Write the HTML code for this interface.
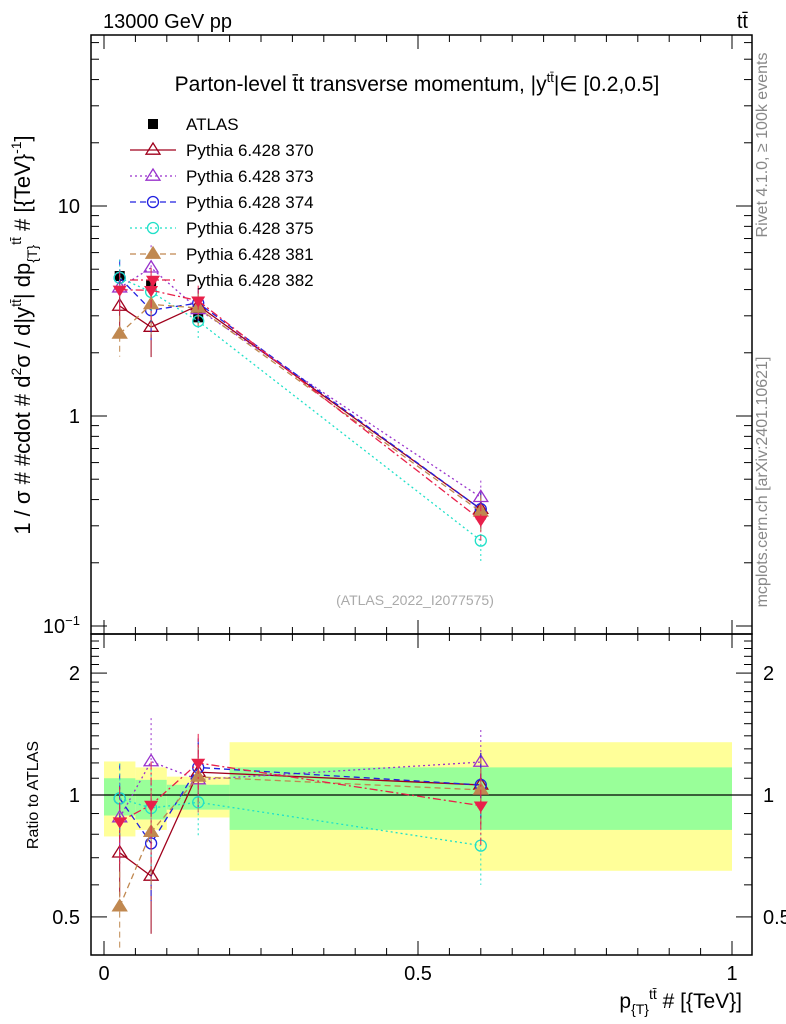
<!DOCTYPE html>
<html><head><meta charset="utf-8">
<style>
body{margin:0;background:#fff;}
svg{display:block;font-family:"Liberation Sans",sans-serif;}
</style></head>
<body>
<svg id="c" width="786" height="1024" viewBox="0 0 786 1024" xmlns="http://www.w3.org/2000/svg">
<g id="bands"></g>
<g id="axes"></g>
<g id="series"></g>
<g id="legend"></g>
<text x="103" y="28" font-size="20">13000 GeV pp</text>
<text x="748" y="28" font-size="20" text-anchor="end">tt̄</text>
<text x="417" y="91" font-size="21" text-anchor="middle">Parton-level t̄t transverse momentum, |y<tspan font-size="13" dy="-9">tt̄</tspan><tspan dy="9">|∈ [0.2,0.5]</tspan></text>
<text x="415" y="605" font-size="14" fill="#aaa" text-anchor="middle">(ATLAS_2022_I2077575)</text>
<text transform="translate(767,145) rotate(-90)" font-size="16" fill="#888" text-anchor="middle">Rivet 4.1.0, ≥ 100k events</text>
<text transform="translate(767,482) rotate(-90)" font-size="16" fill="#888" text-anchor="middle">mcplots.cern.ch [arXiv:2401.10621]</text>
<text transform="translate(30,335) rotate(-90)" font-size="22" text-anchor="middle">1 / σ # #cdot # d<tspan font-size="14" dy="-9">2</tspan><tspan dy="9">σ / d|y</tspan><tspan font-size="14" dy="-9">tt̄</tspan><tspan dy="9">| dp</tspan><tspan font-size="14" dy="7">{T}</tspan><tspan font-size="14" dy="-16">tt̄</tspan><tspan dy="9"> # [{TeV}</tspan><tspan font-size="14" dy="-9">-1</tspan><tspan dy="9">]</tspan></text>
<text transform="translate(38,795) rotate(-90)" font-size="16" text-anchor="middle">Ratio to ATLAS</text>
<text x="742" y="1008" font-size="21" text-anchor="end">p<tspan font-size="14" dy="6">{T}</tspan><tspan font-size="14" dy="-15">tt̄</tspan><tspan dy="9"> # [{TeV}]</tspan></text>
</svg>
<script>
const xCenters=[0.025,0.075,0.15,0.6];
const xEdges=[0,0.05,0.1,0.2,1.0];
const atlasVals=[4.64,4.2,2.95,0.34];
const atlasErr=[0.35,0.3,0.2,0.03];
const yellowLo=[0.79,0.82,0.88,0.65];
const yellowHi=[1.21,1.17,1.11,1.35];
const greenLo=[0.89,0.87,0.92,0.82];
const greenHi=[1.10,1.09,1.06,1.17];
const s370=[3.34,2.65,3.36,0.36];
const s373=[4.08,5.08,3.22,0.41];
const s374=[4.55,3.19,3.45,0.36];
const s375=[4.55,3.9,2.83,0.255];
const s381=[2.46,3.4,3.27,0.35];
const s382=[3.99,3.97,3.54,0.32];
const relErr=[0.22,0.28,0.18,0.2];
const xTicks=[0,0.5,1];
const xTickLabels=["0","0.5","1"];
const yTicks=[0.1,1,10];
const yTickLabels=["10","1","10"];
const rTicks=[0.5,1,2];
const rTickLabels=["0.5","1","2"];

const NS="http://www.w3.org/2000/svg";
const L=91,R=752,T=35,MB=634,RB=955;
const X=v=>104+628*v;
const Y=v=>416-210*Math.log10(v);
const YR=v=>795-405*Math.log10(v);
function mk(tag,attrs,parent){const e=document.createElementNS(NS,tag);for(const k in attrs)e.setAttribute(k,attrs[k]);parent.appendChild(e);return e;}
const bands=document.getElementById('bands'),axes=document.getElementById('axes'),ser=document.getElementById('series'),leg=document.getElementById('legend');

for(let i=0;i<4;i++){
  const x0=X(xEdges[i]),x1=X(xEdges[i+1]);
  let r=mk('rect',{x:x0,y:YR(yellowHi[i]),width:x1-x0,height:YR(yellowLo[i])-YR(yellowHi[i]),fill:'#ffff99'},bands);
  
  
  r=mk('rect',{x:x0,y:YR(greenHi[i]),width:x1-x0,height:YR(greenLo[i])-YR(greenHi[i]),fill:'#99ff99'},bands);
  
  
}
mk('rect',{x:L,y:T,width:R-L,height:MB-T,fill:'none',stroke:'#000','stroke-width':1.5},axes);
mk('rect',{x:L,y:MB,width:R-L,height:RB-MB,fill:'none',stroke:'#000','stroke-width':1.5},axes);
mk('line',{x1:L,x2:R,y1:YR(1),y2:YR(1),stroke:'#000','stroke-width':1.2},axes);
for(let v=0;v<=1.0001;v+=0.05){
  const major=Math.abs(v*2-Math.round(v*2))<1e-6;const len=major?14:7;
  for(const yb of [RB,MB]){mk('line',{x1:X(v),x2:X(v),y1:yb,y2:yb-len,stroke:'#000'},axes);}
  mk('line',{x1:X(v),x2:X(v),y1:MB,y2:MB+len,stroke:'#000'},axes);
  mk('line',{x1:X(v),x2:X(v),y1:T,y2:T+len,stroke:'#000'},axes);
}
xTicks.forEach((v,i)=>{const t=mk('text',{x:X(v),y:980,'font-size':20,'text-anchor':'middle'},axes);t.textContent=xTickLabels[i];
  
  });
for(let d=-2;d<=1;d++){for(let m=1;m<10;m++){const v=m*Math.pow(10,d);const y=Y(v);if(y<T||y>MB)continue;const len=m==1?16:8;
  mk('line',{x1:L,x2:L+len,y1:y,y2:y,stroke:'#000'},axes);mk('line',{x1:R,x2:R-len,y1:y,y2:y,stroke:'#000'},axes);}}
yTicks.forEach((v,i)=>{const t=mk('text',{x:80,y:Y(v)+7,'font-size':20,'text-anchor':'end'},axes);t.textContent=yTickLabels[i];
  if(v===0.1){const s=mk('tspan',{'font-size':13,dy:-8},t);s.textContent='−1';}
  
  });
for(let v=0.3;v<=2.5;v+=0.1){const y=YR(v);if(y<MB||y>RB)continue;const major=[0.5,1,2].some(m=>Math.abs(m-v)<1e-6);const len=major?16:8;
  mk('line',{x1:L,x2:L+len,y1:y,y2:y,stroke:'#000'},axes);mk('line',{x1:R,x2:R-len,y1:y,y2:y,stroke:'#000'},axes);}
rTicks.forEach((v,i)=>{for(const [x,a] of [[80,'end'],[763,'start']]){const t=mk('text',{x:x,y:YR(v)+7,'font-size':20,'text-anchor':a},axes);t.textContent=rTickLabels[i];
  
  }});

function marker(g,type,x,y,col){
  const s=7;
  if(type==='sq')mk('rect',{x:x-5,y:y-5,width:10,height:10,fill:'#000'},g);
  else if(type==='tri'||type==='trif')mk('polygon',{points:`${x},${y-s} ${x-s},${y+s*0.6} ${x+s},${y+s*0.6}`,fill:type==='trif'?col:'#fff','fill-opacity':type==='trif'?1:0,stroke:col,'stroke-width':1.3},g);
  else if(type==='dtri')mk('polygon',{points:`${x},${y+s} ${x-s},${y-s*0.6} ${x+s},${y-s*0.6}`,fill:col},g);
  else if(type==='circ')mk('circle',{cx:x,cy:y,r:5.5,fill:'none',stroke:col,'stroke-width':1.3},g);
}
const models=[
 {name:'Pythia 6.428 370',vals:s370,col:'#a0001c',dash:'',m:'tri'},
 {name:'Pythia 6.428 373',vals:s373,col:'#9932cc',dash:'2,3',m:'tri'},
 {name:'Pythia 6.428 374',vals:s374,col:'#2020e0',dash:'6,4',m:'circ'},
 {name:'Pythia 6.428 375',vals:s375,col:'#20e0c8',dash:'2,3',m:'circ'},
 {name:'Pythia 6.428 381',vals:s381,col:'#c08850',dash:'6,4',m:'trif'},
 {name:'Pythia 6.428 382',vals:s382,col:'#e8204a',dash:'8,3,2,3',m:'dtri'}
];
const ag=mk('g',{},ser);
atlasVals.forEach((v,i)=>{mk('line',{x1:X(xCenters[i]),x2:X(xCenters[i]),y1:Y(v+atlasErr[i]),y2:Y(v-atlasErr[i]),stroke:'#000'},ag);marker(ag,'sq',X(xCenters[i]),Y(v),'#000');});
models.forEach((md,k)=>{
  const g=mk('g',{},ser);
  
  
  const pts=md.vals.map((v,i)=>X(xCenters[i])+','+Y(v)).join(' ');
  mk('polyline',{points:pts,fill:'none',stroke:md.col,'stroke-width':1.3,'stroke-dasharray':md.dash},g);
  const rpts=md.vals.map((v,i)=>X(xCenters[i])+','+YR(v/atlasVals[i])).join(' ');
  mk('polyline',{points:rpts,fill:'none',stroke:md.col,'stroke-width':1.3,'stroke-dasharray':md.dash},g);
  md.vals.forEach((v,i)=>{const x=X(xCenters[i]);const e=relErr[i];
    mk('line',{x1:x,x2:x,y1:Y(v*(1+e)),y2:Y(v*(1-e)),stroke:md.col,'stroke-dasharray':md.dash},g);
    const r=v/atlasVals[i];
    mk('line',{x1:x,x2:x,y1:YR(r*(1+e)),y2:YR(Math.max(r*(1-e),0.36)),stroke:md.col,'stroke-dasharray':md.dash},g);
    marker(g,md.m,x,Y(v),md.col);marker(g,md.m,x,YR(r),md.col);});
  const ly=150+26*k;
  const lg=mk('g',{},leg);
  
  
  mk('line',{x1:130,x2:176,y1:ly,y2:ly,stroke:md.col,'stroke-width':1.3,'stroke-dasharray':md.dash},lg);
  marker(lg,md.m,153,ly,md.col);
  const t=mk('text',{x:186,y:ly+6,'font-size':17},lg);t.textContent=md.name;
});
const lg0=mk('g',{},leg);


marker(lg0,'sq',153,124,'#000');
const t0=mk('text',{x:186,y:130,'font-size':17},lg0);t0.textContent='ATLAS';
</script>
</body></html>
